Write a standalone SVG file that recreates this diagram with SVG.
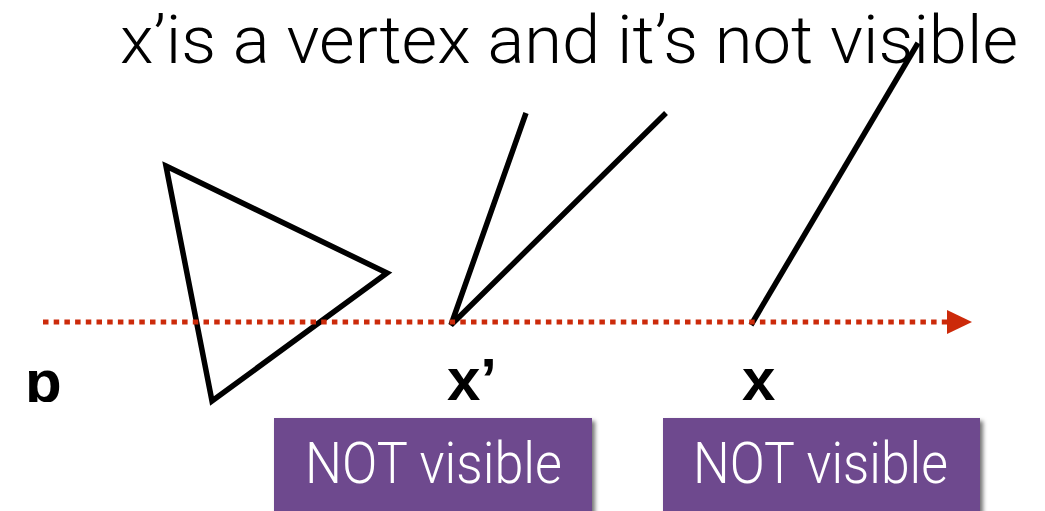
<svg xmlns="http://www.w3.org/2000/svg" width="1045" height="511" viewBox="0 0 1045 511">
  <defs>
    <style>
      .edge { fill: none; stroke: #000; stroke-width: 5.5; stroke-linecap: butt; stroke-linejoin: miter; }
      .ray { fill: none; stroke: #cc2a0a; stroke-width: 5; stroke-dasharray: 5.5 5.2; }
      .pt { font-family: "Liberation Sans", Arial, sans-serif; font-weight: bold; font-size: 60px; fill: #000; }
      .title { font-family: Roboto, "Liberation Sans", sans-serif; font-weight: 300; font-size: 67px; fill: #000; }
      .tag { fill: #6e4a8e; filter: url(#shadow); }
      .tagtext { font-family: Roboto, "Liberation Sans", sans-serif; font-weight: 300; font-size: 58px; fill: #fff; }
    </style>
    <marker id="head" viewBox="0 0 25 24" refX="0" refY="12" markerWidth="25" markerHeight="24" markerUnits="userSpaceOnUse" orient="auto">
      <path d="M0,0 L25,12 L0,24 Z" fill="#cc2a0a"/>
    </marker>
    <filter id="shadow" x="-10%" y="-10%" width="130%" height="140%">
      <feDropShadow dx="3" dy="3" stdDeviation="2" flood-color="#000" flood-opacity="0.55"/>
    </filter>
    <clipPath id="labelclip">
      <rect x="0" y="0" width="1045" height="402"/>
    </clipPath>
  </defs>

  <rect width="1045" height="511" fill="#fff"/>

  <!-- heading -->
  <g id="heading">
    <text class="title" x="120" y="63" textLength="898" lengthAdjust="spacingAndGlyphs">x’is a vertex and it’s not visible</text>
  </g>

  <!-- obstacle triangle -->
  <g id="triangle">
    <polygon class="edge" points="166,166 387,273 212,401"/>
  </g>

  <!-- vertex x' with its two edges -->
  <g id="vertex-xprime">
    <polyline class="edge" points="526,113 451,325 666,113"/>
  </g>

  <!-- edge through x -->
  <g id="edge-x">
    <line class="edge" x1="751" y1="325" x2="918" y2="43"/>
  </g>

  <!-- ray from p -->
  <g id="connectors">
    <line class="ray" x1="43" y1="322" x2="947" y2="322" marker-end="url(#head)"/>
  </g>

  <!-- point labels -->
  <g id="labels" clip-path="url(#labelclip)">
    <text class="pt" x="25" y="402">p</text>
    <text class="pt" x="447" y="400">x’</text>
    <text class="pt" x="742" y="400">x</text>
  </g>

  <!-- status tags -->
  <g id="tag-xprime">
    <rect class="tag" x="274" y="418" width="318" height="110"/>
    <text class="tagtext" x="305" y="483" textLength="257" lengthAdjust="spacingAndGlyphs">NOT visible</text>
  </g>
  <g id="tag-x">
    <rect class="tag" x="663" y="418" width="317" height="110"/>
    <text class="tagtext" x="693" y="483" textLength="255" lengthAdjust="spacingAndGlyphs">NOT visible</text>
  </g>
</svg>
